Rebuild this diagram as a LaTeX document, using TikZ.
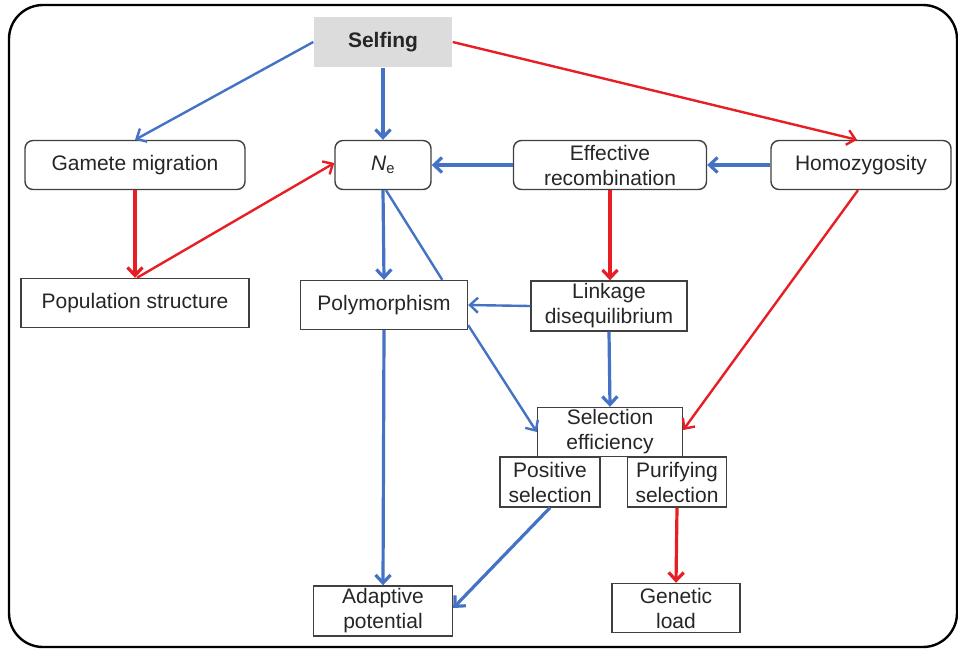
\documentclass[tikz,border=0pt]{standalone}
\usepackage{fontspec}
\setmainfont{Liberation Sans}
\usetikzlibrary{arrows.meta}
\definecolor{pathblue}{RGB}{68,114,196}
\definecolor{pathred}{RGB}{232,30,37}
\definecolor{selfgray}{RGB}{220,220,220}
\definecolor{inkgray}{RGB}{64,64,64}

\tikzset{
  box/.style={draw=inkgray, line width=1.4pt, fill=white, align=center,
    inner sep=0pt, text=black!85, font=\fontsize{21}{25}\selectfont},
  roundbox/.style={box, rounded corners=8pt},
  blueline/.style={pathblue, line width=2.4pt},
  redline/.style={pathred, line width=2.4pt},
  tip/.style={-{Straight Barb[length=8pt,width=15pt]}},
  heavy/.style={line width=3.2pt}
}

\begin{document}
\begin{tikzpicture}[x=1pt,y=-1pt]
    \useasboundingbox (0,0) rectangle (958,648);
    % Frame
    \draw[line width=2.4pt, rounded corners=34pt] (9,5) rectangle (957,647);

    % Top row
    \node[box, draw=none, fill=selfgray, minimum width=138pt, minimum height=50pt,
        font=\fontsize{21}{25}\selectfont\bfseries] (selfing) at (383,42) {Selfing};
    \node[roundbox, minimum width=220pt, minimum height=49pt] (gamete) at (135,165) {Gamete migration};
    \node[roundbox, minimum width=96pt, minimum height=49pt] (ne) at (383,165) {\textit{N}\textsubscript{e}};
    \node[roundbox, minimum width=193pt, minimum height=49pt] (effrec) at (610,165) {Effective\\recombination};
    \node[roundbox, minimum width=180pt, minimum height=49pt] (homo) at (861,165) {Homozygosity};

    % Middle row
    \node[box, minimum width=228pt, minimum height=49pt] (popstruct) at (135,303) {Population structure};
    \node[box, minimum width=167pt, minimum height=49pt] (poly) at (384,305) {Polymorphism};
    \node[box, minimum width=156pt, minimum height=50pt] (linkage) at (609,306) {Linkage\\disequilibrium};

    % Selection
    \node[box, minimum width=145pt, minimum height=49pt] (selection) at (610,432) {Selection\\efficiency};
    \node[box, minimum width=100pt, minimum height=50pt] (positive) at (550,482) {Positive\\selection};
    \node[box, minimum width=99pt, minimum height=50pt] (purifying) at (677,482) {Purifying\\selection};

    % Outcomes
    \node[box, minimum width=139pt, minimum height=50pt] (adaptive) at (383,611) {Adaptive\\potential};
    \node[box, minimum width=128pt, minimum height=49pt] (load) at (676,608) {Genetic\\load};

    % Blue connectors
    \draw[blueline, tip] (selfing.west) -- (gamete.north);
    \draw[blueline, heavy, tip] (selfing.south) -- (ne.north);
    \draw[blueline, heavy, tip] (effrec.west) -- (ne.east);
    \draw[blueline, heavy, tip] (homo.west) -- (effrec.east);
    \draw[blueline, heavy, tip] (ne.south) -- (poly.north);
    \draw[blueline] ([xshift=3pt]ne.south) -- ([xshift=-26pt]poly.north east);
    \draw[blueline, tip] (linkage.west) -- (poly.east);
    \draw[blueline, tip] ([yshift=5pt]poly.south east) -- (selection.west);
    \draw[blueline, heavy, tip] (linkage.south) -- (selection.north);
    \draw[blueline, heavy, tip] (poly.south) -- (adaptive.north);
    \draw[blueline, heavy, tip] (positive.south) -- ([yshift=3pt]adaptive.east);

    % Red connectors
    \draw[redline, tip] (selfing.east) -- ([xshift=-4pt]homo.north);
    \draw[redline, heavy, tip] (gamete.south) -- (popstruct.north);
    \draw[redline, tip] ([xshift=2pt]popstruct.north) -- ([yshift=2pt]ne.west);
    \draw[redline, heavy, tip] (effrec.south) -- ([xshift=1pt]linkage.north);
    \draw[redline, tip] ([xshift=-3pt]homo.south) -- ([yshift=2pt]selection.east);
    \draw[redline, heavy, tip] (purifying.south) -- (load.north);
\end{tikzpicture}
\end{document}
